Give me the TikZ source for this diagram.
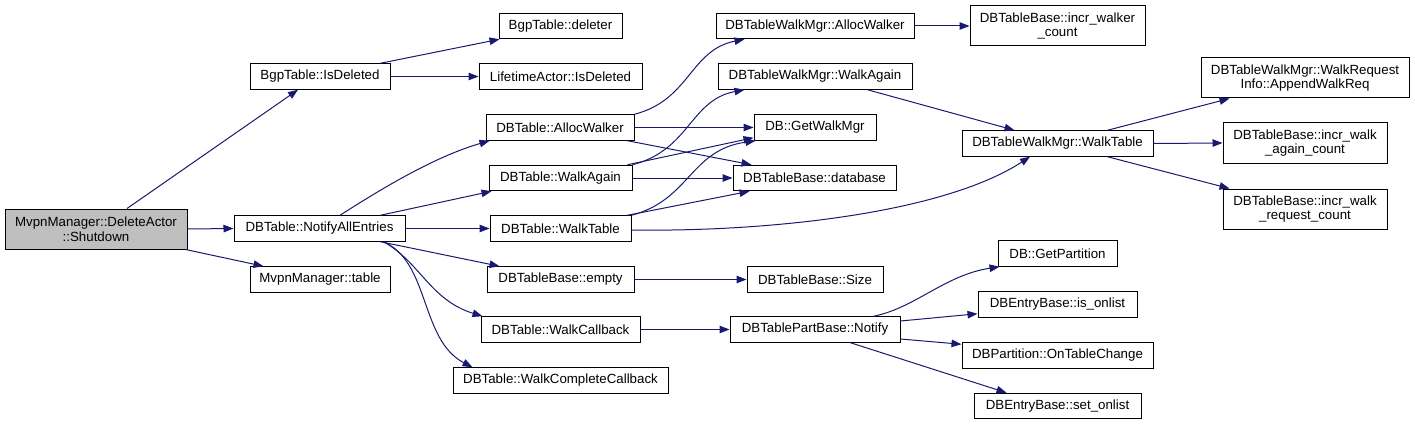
\documentclass[tikz,border=0pt]{standalone}
\usepackage{fontspec}
\setmainfont{Liberation Sans}
\usetikzlibrary{arrows.meta}
\definecolor{edgecol}{HTML}{191970}
\definecolor{rootfill}{HTML}{BFBFBF}
\begin{document}
\begin{tikzpicture}[x=1pt,y=-1pt,
  box/.style={draw=black, line width=1pt, fill=white, inner sep=0pt, minimum height=25.5pt,
    font=\fontsize{13.3}{14.5}\selectfont, align=center, text=black},
  tall/.style={minimum height=40pt},
  edge/.style={draw=edgecol, line width=1pt, -{Triangle[length=10pt,width=7.5pt]}}]
\useasboundingbox (0,0) rectangle (1415,425);
% column 0
\node[box, tall, fill=rootfill, minimum width=182pt] (root) at (96,229) {MvpnManager::DeleteActor\\::Shutdown};
% column 1
\node[box, minimum width=140pt] (bisdel) at (320,76.5) {BgpTable::IsDeleted};
\node[box, minimum width=171pt] (nae) at (319.5,228.5) {DBTable::NotifyAllEntries};
\node[box, minimum width=140pt] (mtable) at (320,279.5) {MvpnManager::table};
% column 2
\node[box, minimum width=123pt] (deleter) at (560.5,26) {BgpTable::deleter};
\node[box, minimum width=163pt] (ltisdel) at (560.5,76.5) {LifetimeActor::IsDeleted};
\node[box, minimum width=148pt] (alloc) at (560,127.5) {DBTable::AllocWalker};
\node[box, minimum width=143pt] (wagain) at (560.5,178) {DBTable::WalkAgain};
\node[box, minimum width=141pt] (wtable) at (560.5,228.5) {DBTable::WalkTable};
\node[box, minimum width=147pt] (empty) at (560.5,279.5) {DBTableBase::empty};
\node[box, minimum width=159pt] (wcb) at (560.5,329.5) {DBTable::WalkCallback};
\node[box, minimum width=215pt] (wccb) at (560.5,380.5) {DBTable::WalkCompleteCallback};
% column 3
\node[box, minimum width=198pt] (malloc) at (815,26) {DBTableWalkMgr::AllocWalker};
\node[box, minimum width=194pt] (magain) at (815,76.5) {DBTableWalkMgr::WalkAgain};
\node[box, minimum width=122pt] (getwm) at (815,127.5) {DB::GetWalkMgr};
\node[box, minimum width=163pt] (database) at (814.5,178) {DBTableBase::database};
\node[box, minimum width=136pt] (size) at (815,279.5) {DBTableBase::Size};
\node[box, minimum width=170pt] (notify) at (815,329.5) {DBTablePartBase::Notify};
% column 4
\node[box, tall, minimum width=175pt] (iwc) at (1057.5,26) {DBTableBase::incr\_walker\\\_count};
\node[box, minimum width=191pt] (mtab) at (1057.5,143.5) {DBTableWalkMgr::WalkTable};
\node[box, minimum width=119pt] (getpart) at (1057.5,253.5) {DB::GetPartition};
\node[box, minimum width=159pt] (isonl) at (1057.5,304.5) {DBEntryBase::is\_onlist};
\node[box, minimum width=191pt] (otc) at (1057.5,355.5) {DBPartition::OnTableChange};
\node[box, minimum width=167pt] (setonl) at (1057.5,406) {DBEntryBase::set\_onlist};
% column 5
\node[box, tall, minimum width=208pt] (append) at (1305,78) {DBTableWalkMgr::WalkRequest\\Info::AppendWalkReq};
\node[box, tall, minimum width=164pt] (iwac) at (1305,143) {DBTableBase::incr\_walk\\\_again\_count};
\node[box, tall, minimum width=164pt] (iwrc) at (1305,209) {DBTableBase::incr\_walk\\\_request\_count};
% edges
\draw[edge] ([xshift=31pt]root.north) -- ([xshift=-22pt]bisdel.south);
\draw[edge] (root.east) -- (nae.west);
\draw[edge] ([xshift=-2pt]root.south east) -- ([xshift=14pt]mtable.north west);
\draw[edge] ([xshift=-10pt]bisdel.north east) -- ([xshift=1pt]deleter.south west);
\draw[edge] (bisdel.east) -- (ltisdel.west);
\draw[edge] ([xshift=20.5pt]nae.north) .. controls (372,195) and (430,158) .. ([xshift=4pt]alloc.south west);
\draw[edge] ([xshift=-25pt]nae.north east) -- ([xshift=3pt]wagain.south west);
\draw[edge] (nae.east) -- (wtable.west);
\draw[edge] ([xshift=-25pt]nae.south east) -- ([xshift=13pt]empty.north west);
\draw[edge] ([xshift=-22pt]nae.south east) .. controls (420,262) and (430,300) .. ([xshift=2pt]wcb.north west);
\draw[edge] ([xshift=-22pt]nae.south east) .. controls (430,262) and (420,340) .. ([xshift=20pt]wccb.north west);
\draw[edge] (alloc.north east) .. controls (690,100) and (690,50) .. ([xshift=29pt]malloc.south west);
\draw[edge] (alloc.east) -- (getwm.west);
\draw[edge] ([xshift=-7pt]alloc.south east) -- ([xshift=19pt]database.north west);
\draw[edge] (wagain.north east) .. controls (690,150) and (690,100) .. ([xshift=27pt]magain.south west);
\draw[edge] ([xshift=-5pt]wagain.north east) -- ([yshift=3pt]getwm.south west);
\draw[edge] (wagain.east) -- (database.west);
\draw[edge] (wtable.north east) .. controls (690,200) and (690,150) .. ([xshift=2pt]getwm.south west);
\draw[edge] ([xshift=-4pt]wtable.north east) -- ([xshift=17pt]database.south west);
\draw[edge] ([yshift=-1.5pt]wtable.east) .. controls (760,232) and (940,215) .. ([xshift=-27.5pt]mtab.south);
\draw[edge] (malloc.east) -- (iwc.west);
\draw[edge] ([xshift=-45pt]magain.south east) -- ([xshift=53pt]mtab.north west);
\draw[edge] (empty.east) -- (size.west);
\draw[edge] (wcb.east) -- (notify.west);
\draw[edge] ([xshift=-46pt]mtab.north east) -- ([xshift=29pt]append.south west);
\draw[edge] (mtab.east) -- (iwac.west);
\draw[edge] ([xshift=-46pt]mtab.south east) -- ([xshift=7pt]iwrc.north west);
\draw[edge] ([xshift=-27pt]notify.north east) .. controls (915,308) and (945,275) .. ([xshift=2pt]getpart.south west);
\draw[edge] ([yshift=8.5pt]notify.east) -- ([yshift=4pt]isonl.south west);
\draw[edge] ([yshift=-9.5pt]notify.east) -- ([yshift=-2pt]otc.north west);
\draw[edge] ([xshift=-50pt]notify.south east) -- ([xshift=33pt]setonl.north west);
\end{tikzpicture}
\end{document}
